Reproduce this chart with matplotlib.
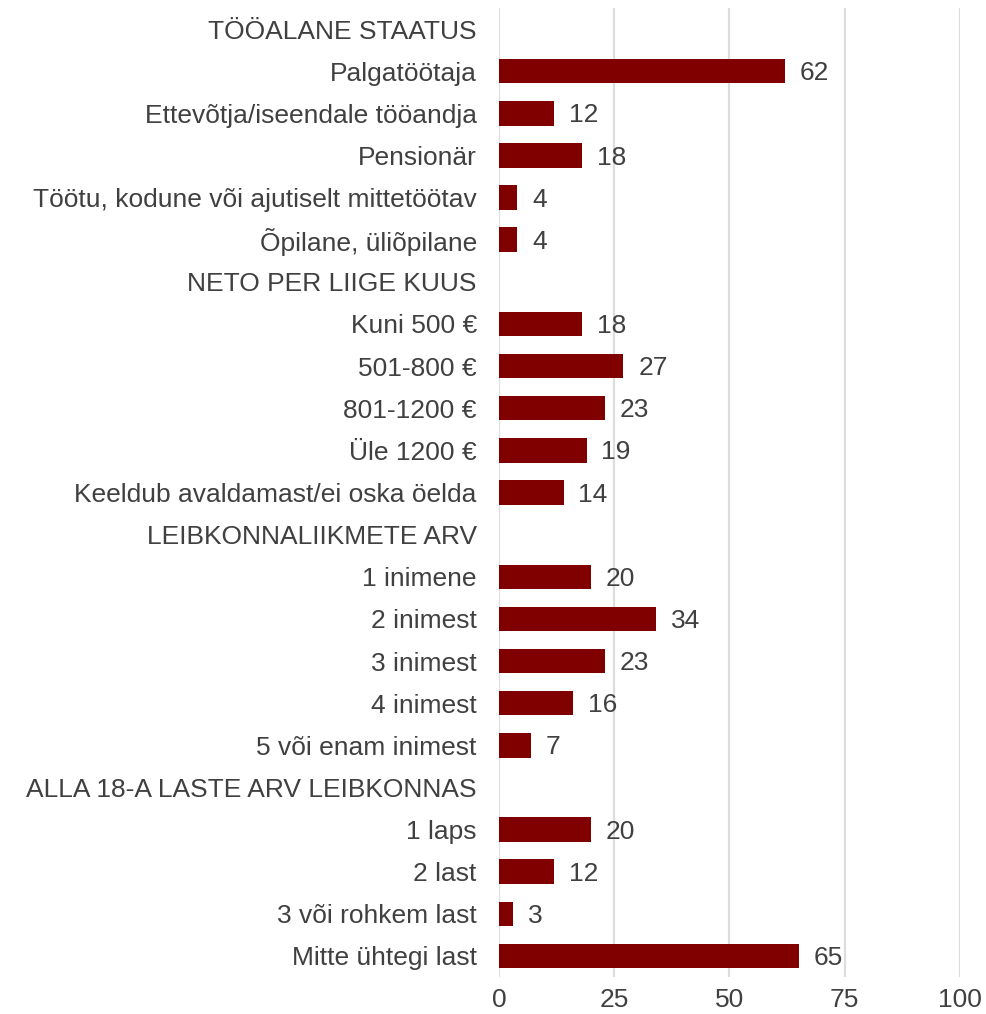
import numpy as np
import matplotlib
matplotlib.use("Agg")
import matplotlib.pyplot as plt

plt.rcParams['font.family'] = ['Liberation Sans', 'DejaVu Sans']

# rows from top to bottom; None = section header (no bar)
categories = [
    "TÖÖALANE STAATUS",
    "Palgatöötaja",
    "Ettevõtja/iseendale tööandja",
    "Pensionär",
    "Töötu, kodune või ajutiselt mittetöötav",
    "Õpilane, üliõpilane",
    "NETO PER LIIGE KUUS",
    "Kuni 500 €",
    "501-800 €",
    "801-1200 €",
    "Üle 1200 €",
    "Keeldub avaldamast/ei oska öelda",
    "LEIBKONNALIIKMETE ARV",
    "1 inimene",
    "2 inimest",
    "3 inimest",
    "4 inimest",
    "5 või enam inimest",
    "ALLA 18-A LASTE ARV LEIBKONNAS",
    "1 laps",
    "2 last",
    "3 või rohkem last",
    "Mitte ühtegi last",
]
values = [None, 62, 12, 18, 4, 4,
          None, 18, 27, 23, 19, 14,
          None, 20, 34, 23, 16, 7,
          None, 20, 12, 3, 65]
xticks = [0, 25, 50, 75, 100]

text_col = '#404040'
bar_col = '#800000'
fs = 19

fig = plt.figure(figsize=(9.87, 10.14), dpi=100)
ax = fig.add_axes([499 / 987, 1 - 977 / 1014, 461 / 987, 969 / 1014])

y = np.arange(len(categories))
for yi, v in zip(y, values):
    if v is None:
        continue
    ax.barh(yi, v, height=0.58, color=bar_col, zorder=3)
    ax.text(v + 3.2, yi + 0.05, str(v), va='center', ha='left', fontsize=fs, color=text_col)

ax.set_yticks(y)
ax.set_yticklabels(categories, fontsize=fs, color=text_col)
ax.set_ylim(len(categories) - 0.5, -0.5)
ax.set_xlim(0, 100)
ax.set_xticks(xticks)
ax.set_xticklabels([str(t) for t in xticks], fontsize=fs, color=text_col)
ax.tick_params(axis='both', length=0)
ax.tick_params(axis='y', pad=16)
ax.tick_params(axis='x', pad=8)
ax.grid(axis='x', color='#dddddd', linewidth=1.6, zorder=0)
for s in ax.spines.values():
    s.set_visible(False)

fig.savefig('out.png', dpi=100)
